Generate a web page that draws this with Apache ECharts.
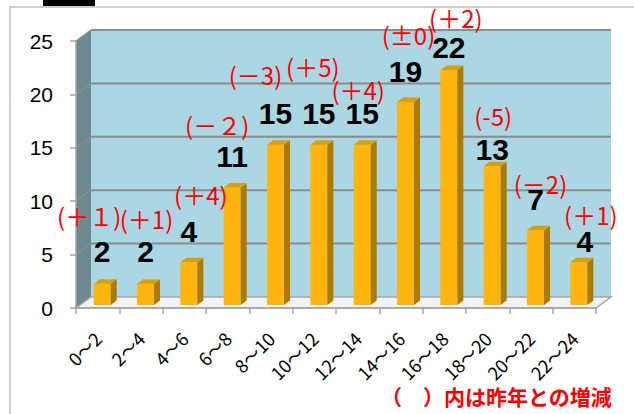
<!DOCTYPE html>
<html><head><meta charset="utf-8">
<script src="https://cdn.jsdelivr.net/npm/echarts@6/dist/echarts.min.js"></script>
<style>html,body{margin:0;padding:0;background:#fff}#c{width:634px;height:414px}</style>
</head><body><div id="c"></div>
<script>
// ---------- DATA ----------
const categories = ['0〜2','2〜4','4〜6','6〜8','8〜10','10〜12','12〜14','14〜16','16〜18','18〜20','20〜22','22〜24'];
const counts = [2, 2, 4, 11, 15, 15, 15, 19, 22, 13, 7, 4];
const changes = ['(＋１)','(＋1)','(＋4)','(－２)','(－3)','(＋5)','(＋4)','(±0)','(＋2)','(-5)','(－2)','(＋1)'];
const yMin = 0, yMax = 25, yStep = 5;
const noteText = '（　）内は昨年との増減';

// ---------- LAYOUT / STYLE ----------
const DX = 15, DY = -11;          // depth offset of back wall
const BAR_SHIFT_X = 4.5, BAR_SHIFT_Y = -3;
const BAR_W = 17, BAR_DX = 6, BAR_DY = -4.5;
// manual label placement (Excel-style moved labels): [dx, gap above bar top]
const valueLabelNudge = [[0,21],[0,21],[0,20],[0,20],[0,20],[0,20],[0,20],[0,20],[0,12],[0,6],[0,20],[6,10]];
const changeLabelNudge = [[-13,68],[1,65],[12,68],[-15,63],[-20,70],[-6,78],[-4,55],[3,68],[7,53],[1,51],[5,47],[12,48]];

const chart = echarts.init(document.getElementById('c'), null, {renderer: 'svg'});

function renderBackground(params, api) {
  const cs = params.coordSys;
  const x0 = cs.x, y0 = cs.y, x1 = cs.x + cs.width, y1 = cs.y + cs.height;
  const children = [];
  children.push({type:'rect', shape:{x:x0+DX, y:y0+DY, width:cs.width, height:cs.height},
    style:{fill:'#AAD7E3'}});
  children.push({type:'polygon', shape:{points:[[x0,y0],[x0+DX,y0+DY],[x0+DX,y1+DY],[x0,y1]]},
    style:{fill:'#6C8A90'}});
  for (let v = yMin + yStep; v <= yMax; v += yStep) {
    const y = api.coord([0, v])[1];
    children.push({type:'line', shape:{x1:x0+DX, y1:y+DY, x2:x1+DX, y2:y+DY},
      style:{stroke:'#8C8C8C', lineWidth:2}});
    children.push({type:'line', shape:{x1:x0, y1:y, x2:x0+DX, y2:y+DY},
      style:{stroke:'#8C8C8C', lineWidth:1.5}});
  }
  children.push({type:'polygon', shape:{points:[[x0,y1],[x1,y1],[x1+DX,y1+DY],[x0+DX,y1+DY]]},
    style:{fill:'#F2F2F2', stroke:'#A6A6A6', lineWidth:1.5}});
  return {type:'group', children};
}

function barGeom(api) {
  const i = api.value(0), v = api.value(1);
  const base = api.coord([i, 0]);
  const top = api.coord([i, v]);
  const cx = base[0] + BAR_SHIFT_X;
  return {i, v, cx, xl: cx - BAR_W/2, xr: cx + BAR_W/2, yb: base[1] + BAR_SHIFT_Y, yt: top[1] + BAR_SHIFT_Y};
}

function renderBar(params, api) {
  const g = barGeom(api);
  return {type:'group', children:[
    {type:'rect', shape:{x:g.xl, y:g.yt, width:BAR_W, height:g.yb-g.yt}, style:{fill:'#FFB50D'}},
    {type:'polygon', shape:{points:[[g.xr,g.yt],[g.xr+BAR_DX,g.yt+BAR_DY],[g.xr+BAR_DX,g.yb+BAR_DY],[g.xr,g.yb]]}, style:{fill:'#AA7B00'}},
    {type:'polygon', shape:{points:[[g.xl,g.yt],[g.xl+BAR_DX,g.yt+BAR_DY],[g.xr+BAR_DX,g.yt+BAR_DY],[g.xr,g.yt]]}, style:{fill:'#D9A00A'}}
  ]};
}

function renderLabels(params, api) {
  const g = barGeom(api);
  const vn = valueLabelNudge[g.i], cn = changeLabelNudge[g.i];
  return {type:'group', children:[
    {type:'text', style:{text:String(counts[g.i]), x:g.cx + vn[0], y:g.yt - vn[1] - 11,
      align:'center', verticalAlign:'middle', fill:'#000',
      fontFamily:"'Liberation Sans', Arial, sans-serif", fontWeight:'bold', fontSize:30}},
    {type:'text', style:{text:changes[g.i], x:g.cx + cn[0], y:g.yt - cn[1],
      align:'center', verticalAlign:'middle', fill:'#FF0000',
      fontFamily:"'Noto Sans CJK JP', sans-serif", fontSize:24}}
  ]};
}

const barData = counts.map((v, i) => [i, v]);

chart.setOption({
  animation: false,
  grid: {left: 76, right: 38, top: 41, bottom: 106},
  xAxis: {
    type: 'category', data: categories,
    axisLine: {show: true, lineStyle: {color: '#A6A6A6', width: 1.5}},
    axisTick: {show: true, interval: 0, length: 6, lineStyle: {color: '#A6A6A6', width: 1.5}},
    axisLabel: {interval: 0, rotate: 45, margin: 27, color: '#000', fontSize: 18,
      fontFamily: "'Noto Sans CJK JP', sans-serif"}
  },
  yAxis: {
    type: 'value', min: yMin, max: yMax, interval: yStep,
    splitLine: {show: false},
    axisLine: {show: true, lineStyle: {color: '#A6A6A6', width: 1.5}},
    axisTick: {show: true, length: 6, lineStyle: {color: '#A6A6A6', width: 1.5}},
    axisLabel: {margin: 23, color: '#000', fontSize: 21, fontFamily: "'Liberation Sans', Arial, sans-serif"}
  },
  graphic: [
    {type:'rect', shape:{x:10, y:7, width:700, height:500}, style:{fill:'none', stroke:'#BFBFBF', lineWidth:1.5}, z:-10},
    {type:'rect', shape:{x:43, y:-2, width:52, height:8}, style:{fill:'#000'}},
    {type:'text', right: 22, top: 385, style:{text: noteText, fill:'#FF0000', fontSize:21, fontWeight:'bold',
      fontFamily:"'Noto Sans CJK JP', sans-serif"}}
  ],
  series: [
    {type:'custom', renderItem: renderBackground, data:[[0, 0]], z:0, silent:true},
    {type:'custom', renderItem: renderBar, data: barData, encode:{x:0, y:1}, z:2},
    {type:'custom', renderItem: renderLabels, data: barData, encode:{x:0, y:1}, z:3}
  ]
});
</script>
</body></html>
